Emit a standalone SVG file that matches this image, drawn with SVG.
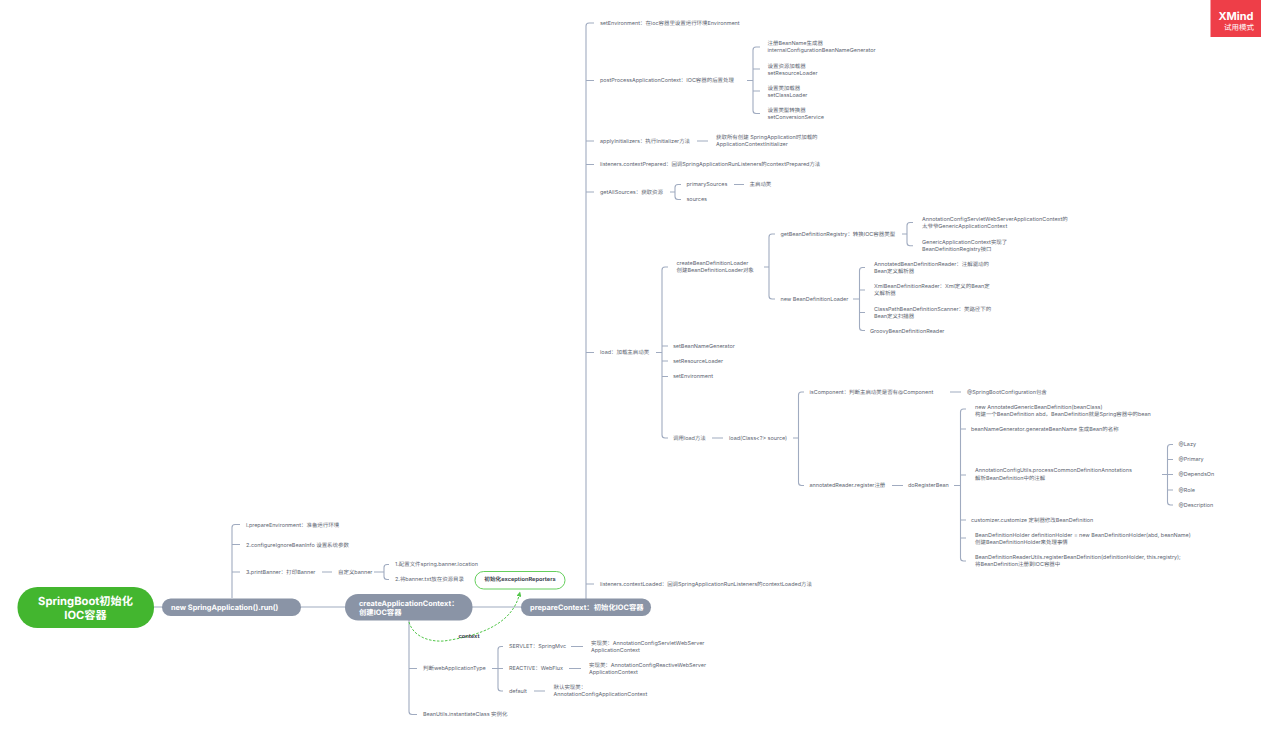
<svg xmlns="http://www.w3.org/2000/svg" width="1280" height="738" viewBox="0 0 1280 738">
<style>
text{font-family:"Inter","Noto Sans CJK SC",sans-serif;font-size:5.45px;fill:#5c6470;dominant-baseline:middle;text-rendering:geometricPrecision}
.c{fill:none;stroke:#a0abc0;stroke-width:1.1}
.m{fill:#8a94a6}
.m+text,.w{fill:#fff;font-weight:700;font-size:7.35px;dominant-baseline:central}
.b{font-weight:700;fill:#3c4350;font-size:5.65px;dominant-baseline:central}
.r{fill:#fff;font-weight:700;font-size:11.2px;dominant-baseline:central}
.x{fill:#fff;dominant-baseline:central}
</style>
<defs><marker id="arr" markerWidth="5" markerHeight="5" refX="2.5" refY="2.5" orient="auto" markerUnits="userSpaceOnUse"><path d="M0 0L5 2.5L0 5Z" fill="#53c64a"/></marker></defs>
<rect width="1280" height="738" fill="#fff"/>
<g id="connectors">
<path class="c" d="M154 607H162M301 607H345M472 607H521"/>
<path class="c" d="M232 598V527.500Q232 524.500 235 524.500H240M232 544.500H240M232 572H240M322 572H332M374 572H384M389 564.500H387Q384 564.500 384 567.500V576.500Q384 579.500 387 579.500H389"/>
<path class="c" d="M409 620V711.500Q409 714.500 412 714.500H417M409 668.500H417M492 668.500H503M503 646.500H501Q498 646.500 498 649.500V688Q498 691 501 691H503M571 646.500H583M569 668.500H581M534 691H545"/>
<path class="c" d="M586 599V26Q586 23 589 23H594M586 80.500H594M586 141H594M586 164.500H594M586 192H594M586 352.500H594M586 584H594"/>
<path class="c" d="M747 80.500H753M760 47H756Q753 47 753 50V110.500Q753 113.500 756 113.500H760M753 69H760M753 91H760M697 141H708M670 192H675M681 184.500H678Q675 184.500 675 187.500V196.500Q675 199.500 678 199.500H681M734 184.500H744"/>
<path class="c" d="M656 352.500H662M668 267H665Q662 267 662 270V435Q662 438 665 438H668M662 346H668M662 361H668M662 376.500H668M712 438H723M793 438H798.500M804 392H801.500Q798.500 392 798.500 395V482.500Q798.500 485.500 801.500 485.500H804M950 392H961M892 485.500H903M954 485.500H960.500M966 409H963.500Q960.500 409 960.500 412V558Q960.500 561 963.500 561H966M960.500 429H966M960.500 475H966M960.500 520H966M960.500 538H966"/>
<path class="c" d="M1162 474.500H1173M1173 444.500H1170.500Q1167.500 444.500 1167.500 447.500V502Q1167.500 505 1170.500 505H1173M1167.500 459.500H1173M1167.500 490H1173"/>
<path class="c" d="M764 267H769M775 234H772Q769 234 769 237V296Q769 299 772 299H775M902 234H907M913 222.500H910Q907 222.500 907 225.500V242.700Q907 245.700 910 245.700H913M853 299H859.500M865 267.500H862.500Q859.500 267.500 859.500 270.500V327.500Q859.500 330.500 862.500 330.500H865M859.500 290H865M859.500 312.500H865"/>
<path d="M409 622C413 636 428 642 444 641C478 636 512 625 519.500 594" fill="none" stroke="#53c64a" stroke-width="1" stroke-dasharray="2.500 1.500" marker-end="url(#arr)"/>
</g>
<g id="nodes" transform="translate(0 1)">
<g id="root"><rect x="17.500" y="586" width="136.500" height="41" rx="20" fill="#43b62f"/><text class="r" x="85.500" y="600" text-anchor="middle">SpringBoot初始化</text><text class="r" x="85.500" y="614" text-anchor="middle">IOC容器</text></g>
<g id="n-run"><rect class="m" x="162" y="597.500" width="139" height="17.500" rx="8.700"/><text x="171" y="606.800">new SpringApplication().run()</text></g>
<g id="n-create"><rect class="m" x="345" y="593" width="127.500" height="26.500" rx="13"/><text x="359" y="602">createApplicationContext：</text><text class="w" x="359" y="611.500">创建IOC容器</text></g>
<g id="n-prepare"><rect class="m" x="521" y="597.500" width="130" height="17.500" rx="8.700"/><text x="530" y="606.800">prepareContext：初始化IOC容器</text></g>
<g id="n-reporters"><rect x="475" y="570.500" width="90" height="17.500" rx="8.700" fill="#fff" stroke="#65cf5c" stroke-width="1"/><text class="b" x="520" y="579" text-anchor="middle">初始化exceptionReporters</text></g>
<g id="l-context"><text class="b" x="469" y="636" text-anchor="middle">context</text></g>
<g id="n1"><text x="246" y="524.500">l.prepareEnvironment：准备运行环境</text></g>
<g id="n2"><text x="246" y="544.500">2.configureIgnoreBeanInfo 设置系统参数</text></g>
<g id="n3"><text x="246" y="572">3.printBanner：打印Banner</text></g>
<g id="n4"><text x="338" y="572">自定义banner</text></g>
<g id="n5"><text x="395" y="564">1.配置文件spring.banner.location</text></g>
<g id="n6"><text x="395" y="579">2.将banner.txt放在资源目录</text></g>
<g id="n7"><text x="423" y="668">判断webApplicationType</text></g>
<g id="n8"><text x="423" y="714">BeanUtils.instantiateClass 实例化</text></g>
<g id="n9"><text x="509" y="646">SERVLET：SpringMvc</text></g>
<g id="n10"><text x="509" y="668">REACTIVE：WebFlux</text></g>
<g id="n11"><text x="509" y="690.500">default</text></g>
<g id="n12"><text x="591" y="642.500">实现类：AnnotationConfigServletWebServer</text><text x="591" y="650">ApplicationContext</text></g>
<g id="n13"><text x="589" y="664.500">实现类：AnnotationConfigReactiveWebServer</text><text x="589" y="672">ApplicationContext</text></g>
<g id="n14"><text x="553.500" y="687">默认实现类：</text><text x="553.500" y="694">AnnotationConfigApplicationContext</text></g>
<g id="n15"><text x="600" y="22.500">setEnvironment：在ioc容器里设置运行环境Environment</text></g>
<g id="n16"><text x="600" y="80">postProcessApplicationContext：IOC容器的后置处理</text></g>
<g id="n17"><text x="767.500" y="43">注册BeanName生成器</text><text x="767.500" y="50">internalConfigurationBeanNameGenerator</text></g>
<g id="n18"><text x="767.500" y="65.500">设置资源加载器</text><text x="767.500" y="72.500">setResourceLoader</text></g>
<g id="n19"><text x="767.500" y="87.500">设置类加载器</text><text x="767.500" y="94.500">setClassLoader</text></g>
<g id="n20"><text x="767.500" y="110">设置类型转换器</text><text x="767.500" y="117">setConversionService</text></g>
<g id="n21"><text x="600" y="140.500">applyInitializers：执行Initializer方法</text></g>
<g id="n22"><text x="716" y="137">获取所有创建 SpringApplication时加载的</text><text x="716" y="144">ApplicationContextInitializer</text></g>
<g id="n23"><text x="600" y="164">listeners.contextPrepared：回调SpringApplicationRunListeners的contextPrepared方法</text></g>
<g id="n24"><text x="600" y="191.500">getAllSources：获取资源</text></g>
<g id="n25"><text x="686.500" y="184">primarySources</text></g>
<g id="n26"><text x="749.500" y="184">主启动类</text></g>
<g id="n27"><text x="686.500" y="199">sources</text></g>
<g id="n28"><text x="600" y="352">load：加载主启动类</text></g>
<g id="n29"><text x="676.500" y="262.500">createBeanDefinitionLoader</text><text x="676.500" y="269.500">创建BeanDefinitionLoader对象</text></g>
<g id="n30"><text x="673" y="345.500">setBeanNameGenerator</text></g>
<g id="n31"><text x="673" y="360.500">setResourceLoader</text></g>
<g id="n32"><text x="673" y="376">setEnvironment</text></g>
<g id="n33"><text x="673" y="437.500">调用load方法</text></g>
<g id="n34"><text x="780.500" y="233.500">getBeanDefinitionRegistry：转换IOC容器类型</text></g>
<g id="n35"><text x="780.500" y="298.500">new BeanDefinitionLoader</text></g>
<g id="n36"><text x="922" y="219">AnnotationConfigServletWebServerApplicationContext的</text><text x="922" y="226">太爷爷GenericApplicationContext</text></g>
<g id="n37"><text x="922" y="241.500">GenericApplicationContext实现了</text><text x="922" y="248.500">BeanDefinitionRegistry接口</text></g>
<g id="n38"><text x="874" y="264">AnnotatedBeanDefinitionReader：注解驱动的</text><text x="874" y="271">Bean定义解析器</text></g>
<g id="n39"><text x="874" y="286">XmlBeanDefinitionReader：Xml定义的Bean定</text><text x="874" y="293">义解析器</text></g>
<g id="n40"><text x="874" y="308.500">ClassPathBeanDefinitionScanner：类路径下的</text><text x="874" y="315.500">Bean定义扫描器</text></g>
<g id="n41"><text x="870" y="330.500">GroovyBeanDefinitionReader</text></g>
<g id="n42"><text x="729" y="437.500">load(Class&lt;?&gt; source)</text></g>
<g id="n43"><text x="809.500" y="391.500">isComponent：判断主启动类是否有@Component</text></g>
<g id="n44"><text x="967" y="391.500">@SpringBootConfiguration包含</text></g>
<g id="n45"><text x="809.500" y="485">annotatedReader.register注册</text></g>
<g id="n46"><text x="908" y="485">doRegisterBean</text></g>
<g id="n47"><text x="975" y="406.500">new AnnotatedGenericBeanDefinition(beanClass)</text><text x="975" y="413.500">构建一个BeanDefinition abd，BeanDefinition就是Spring容器中的bean</text></g>
<g id="n48"><text x="971" y="428.500">beanNameGenerator.generateBeanName 生成Bean的名称</text></g>
<g id="n49"><text x="975" y="470">AnnotationConfigUtils.processCommonDefinitionAnnotations</text><text x="975" y="477.500">解析BeanDefinition中的注解</text></g>
<g id="n50"><text x="971" y="519.500">customizer.customize 定制器修改BeanDefinition</text></g>
<g id="n51"><text x="975" y="534.500">BeanDefinitionHolder definitionHolder = new BeanDefinitionHolder(abd, beanName)</text><text x="975" y="542">创建BeanDefinitionHolder来处理事情</text></g>
<g id="n52"><text x="975" y="556.500">BeanDefinitionReaderUtils.registerBeanDefinition(definitionHolder, this.registry);</text><text x="975" y="564">将BeanDefinition注册到IOC容器中</text></g>
<g id="n53"><text x="1178.500" y="444">@Lazy</text></g>
<g id="n54"><text x="1178.500" y="459">@Primary</text></g>
<g id="n55"><text x="1178.500" y="474">@DependsOn</text></g>
<g id="n56"><text x="1178.500" y="489.500">@Role</text></g>
<g id="n57"><text x="1178.500" y="504.500">@Description</text></g>
<g id="n58"><text x="600" y="583.500">listeners.contextLoaded：回调SpringApplicationRunListeners的contextLoaded方法</text></g>
<g id="badge"><rect x="1210.500" y="-1" width="50.500" height="37" fill="#ee3e48"/><text class="x" x="1236" y="15" text-anchor="middle" style="font-weight:700;font-size:11px">XMind</text><text class="x" x="1239" y="26" text-anchor="middle" style="font-size:7.500px">试用模式</text></g>
</g>
</svg>
